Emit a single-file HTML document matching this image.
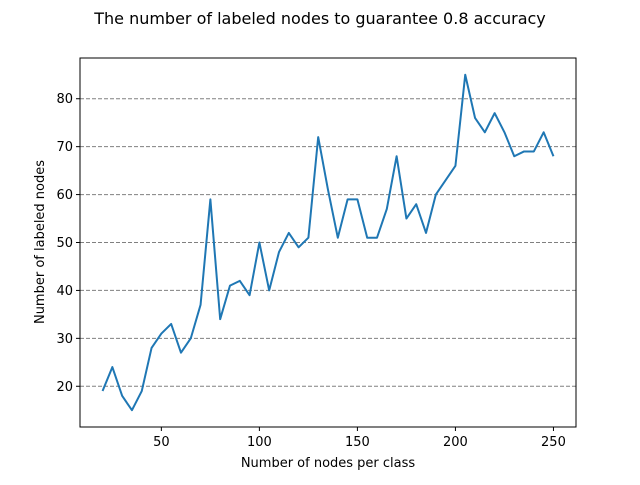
<!DOCTYPE html>
<html><head><meta charset="utf-8"><style>body{margin:0;background:#fff}svg text{font-family:"DejaVu Sans","Liberation Sans",sans-serif;fill:#000}</style></head>
<body>
<svg id="chart" width="640" height="480">
<rect width="640" height="480" fill="#fff"/>
<text x="320" y="24" font-size="16" text-anchor="middle">The number of labeled nodes to guarantee 0.8 accuracy</text>
<g id="grid"></g><g id="series"></g><g id="axes"></g>
<text x="328" y="467" font-size="13" text-anchor="middle">Number of nodes per class</text>
<text transform="translate(44,242) rotate(-90)" font-size="13" text-anchor="middle">Number of labeled nodes</text>
</svg>
<script>
const xValues=[20,25,30,35,40,45,50,55,60,65,70,75,80,85,90,95,100,105,110,115,120,125,130,135,140,145,150,155,160,165,170,175,180,185,190,195,200,205,210,215,220,225,230,235,240,245,250];
const yValues=[19,24,18,15,19,28,31,33,27,30,37,59,34,41,42,39,50,40,48,52,49,51,72,61,51,59,59,51,51,57,68,55,58,52,60,63,66,85,76,73,77,73,68,69,69,73,68];
const xTicks=[50,100,150,200,250];
const yTicks=[20,30,40,50,60,70,80];
const L=80,R=576,T=58,B=427;
const xMin=8.5,xMax=261.5,yMin=11.5,yMax=88.5;
const sx=v=>L+(v-xMin)/(xMax-xMin)*(R-L);
const sy=v=>B-(v-yMin)/(yMax-yMin)*(B-T);
const NS="http://www.w3.org/2000/svg";
function mk(p,t,a){const e=document.createElementNS(NS,t);for(const k in a)e.setAttribute(k,a[k]);p.appendChild(e);return e;}
const grid=document.getElementById('grid'),axes=document.getElementById('axes'),ser=document.getElementById('series');
yTicks.forEach(v=>{
 const g=mk(grid,'line',{x1:L,x2:R,y1:sy(v),y2:sy(v),stroke:'#808080','stroke-width':1,'stroke-dasharray':'4,2'});
 
 
 mk(axes,'line',{x1:L-4,x2:L,y1:sy(v),y2:sy(v),stroke:'#000'});
 const t=mk(axes,'text',{x:L-7,y:sy(v)+4.5,'font-size':13,'text-anchor':'end'});t.textContent=v;
 
 
});
xTicks.forEach(v=>{
 mk(axes,'line',{x1:sx(v),x2:sx(v),y1:B,y2:B+4,stroke:'#000'});
 const t=mk(axes,'text',{x:sx(v),y:B+19,'font-size':13,'text-anchor':'middle'});t.textContent=v;
 
 
});
const line=mk(ser,'polyline',{points:xValues.map((x,i)=>sx(x)+','+sy(yValues[i])).join(' '),fill:'none',stroke:'#1f77b4','stroke-width':2,'stroke-linejoin':'round'});


const fr=mk(axes,'rect',{x:L,y:T,width:R-L,height:B-T,fill:'none',stroke:'#000','stroke-width':1});


</script>
</body></html>
